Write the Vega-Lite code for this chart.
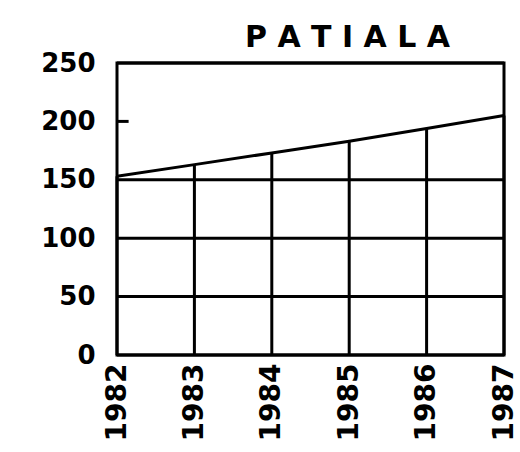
{
  "$schema": "https://vega.github.io/schema/vega-lite/v6.json",
  "autosize": "none",
  "width": 387,
  "height": 292,
  "padding": {"left": 117, "top": 63, "right": 16, "bottom": 97},
  "background": "white",
  "title": {
    "text": "P A T I A L A",
    "anchor": "middle",
    "dx": 37,
    "fontSize": 30,
    "font": "DejaVu Sans",
    "fontWeight": "bold",
    "color": "black",
    "offset": -3
  },
  "config": {
    "view": {"stroke": "black", "strokeWidth": 3},
    "axis": {"grid": false, "ticks": false, "domain": false, "labelColor": "black", "labelFont": "DejaVu Sans", "labelFontWeight": "bold"}
  },
  "datasets": {
    "series": [
      {"year": 1982, "value": 153, "base": 0},
      {"year": 1983, "value": 163, "base": 0},
      {"year": 1984, "value": 173, "base": 0},
      {"year": 1985, "value": 183, "base": 0},
      {"year": 1986, "value": 194, "base": 0},
      {"year": 1987, "value": 205, "base": 0}
    ],
    "hlines": [{"v": 0}, {"v": 50}, {"v": 100}, {"v": 150}, {"v": 250}],
    "ticks200": [{"x1": 1982, "x2": 1982.15, "v": 200}]
  },
  "layer": [
    {
      "data": {"name": "hlines"},
      "mark": {"type": "rule", "color": "black", "strokeWidth": 3},
      "encoding": {
        "y": {"field": "v", "type": "quantitative", "scale": {"domain": [0, 250], "nice": false},
          "axis": {"values": [0, 50, 100, 150, 200, 250], "labelFontSize": 26, "labelPadding": 22, "title": null}}
      }
    },
    {
      "data": {"name": "ticks200"},
      "mark": {"type": "rule", "color": "black", "strokeWidth": 3},
      "encoding": {
        "x": {"field": "x1", "type": "quantitative"},
        "x2": {"field": "x2"},
        "y": {"field": "v", "type": "quantitative"}
      }
    },
    {
      "data": {"name": "series"},
      "mark": {"type": "rule", "color": "black", "strokeWidth": 3},
      "encoding": {
        "x": {"field": "year", "type": "quantitative"},
        "y": {"field": "value", "type": "quantitative"},
        "y2": {"field": "base"}
      }
    },
    {
      "data": {"name": "series"},
      "mark": {"type": "line", "color": "black", "strokeWidth": 3},
      "encoding": {
        "x": {"field": "year", "type": "quantitative",
          "scale": {"domain": [1982, 1987], "nice": false, "zero": false},
          "axis": {"values": [1982, 1983, 1984, 1985, 1986, 1987], "format": "d", "labelAngle": -90, "labelFontSize": 28, "labelPadding": 8, "title": null}},
        "y": {"field": "value", "type": "quantitative"}
      }
    }
  ]
}
